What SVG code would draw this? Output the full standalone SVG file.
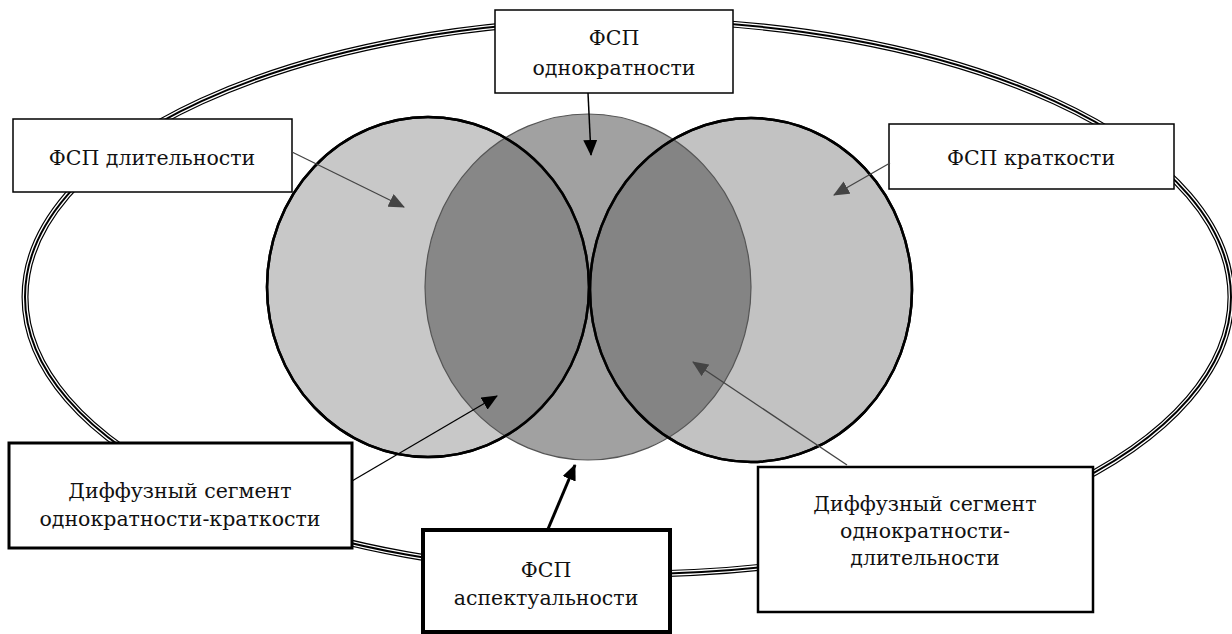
<svg xmlns="http://www.w3.org/2000/svg" width="1232" height="634" viewBox="0 0 1232 634">
<style>
.box{fill:#fff;stroke:#000}
.t{font-family:"DejaVu Serif",serif;font-size:20.5px;fill:#111;text-anchor:middle}
.ring{fill:none;stroke-linecap:round}
.edge{fill:none;stroke:#000;stroke-width:2.5}
</style>
<defs>
<marker id="ab" markerUnits="userSpaceOnUse" markerWidth="16" markerHeight="14" refX="15" refY="7" orient="auto"><path d="M0,0 L16,7 L0,14 Z" fill="#000"/></marker>
<marker id="ag" markerUnits="userSpaceOnUse" markerWidth="16" markerHeight="14" refX="15" refY="7" orient="auto"><path d="M0,0 L16,7 L0,14 Z" fill="#444"/></marker>
</defs>
<g id="outer">
<ellipse class="ring" cx="628" cy="297" rx="603" ry="277" stroke="#000" stroke-width="7"/>
<ellipse class="ring" cx="628" cy="297" rx="603" ry="277" stroke="#fff" stroke-width="4.6"/>
<ellipse class="ring" cx="628" cy="297" rx="603" ry="277" stroke="#000" stroke-width="2"/>
</g>
<g id="circles">
<ellipse id="c-left" cx="428" cy="287" rx="161" ry="170" fill="#c8c8c8" stroke="#000" stroke-width="2.5"/>
<ellipse id="c-right" cx="751" cy="290" rx="161" ry="172" fill="#c2c2c2" stroke="#000" stroke-width="2.5"/>
<ellipse id="c-mid" cx="588" cy="287" rx="163" ry="173" fill="#4a4a4a" fill-opacity="0.52" stroke="#555" stroke-width="1.2"/>
<ellipse class="edge" cx="428" cy="287" rx="161" ry="170"/>
<ellipse class="edge" cx="751" cy="290" rx="161" ry="172"/>
</g>
<g id="n-odn">
<rect class="box" x="495" y="10" width="238" height="83" stroke-width="1.5"/>
<text class="t" x="614" y="45">ФСП</text>
<text class="t" x="614" y="75">однократности</text>
</g>
<g id="n-dlit">
<rect class="box" x="13" y="119" width="279" height="73" stroke-width="1.5"/>
<text class="t" x="152" y="165">ФСП длительности</text>
</g>
<g id="n-krat">
<rect class="box" x="889" y="124" width="285" height="65" stroke-width="1.5"/>
<text class="t" x="1031" y="165">ФСП краткости</text>
</g>
<g id="n-seg-krat">
<rect class="box" x="9" y="443" width="343" height="105" stroke-width="3"/>
<text class="t" x="180" y="498">Диффузный сегмент</text>
<text class="t" x="180" y="526">однократности-краткости</text>
</g>
<g id="n-asp">
<rect class="box" x="423" y="530" width="247" height="102" stroke-width="4"/>
<text class="t" x="546" y="577">ФСП</text>
<text class="t" x="546" y="605">аспектуальности</text>
</g>
<g id="n-seg-dlit">
<rect class="box" x="758" y="467" width="335" height="145" stroke-width="2.5"/>
<text class="t" x="925" y="511">Диффузный сегмент</text>
<text class="t" x="925" y="538">однократности-</text>
<text class="t" x="925" y="565">длительности</text>
</g>
<g id="connectors">
<line x1="588" y1="93" x2="591" y2="155" stroke="#000" stroke-width="1.5" marker-end="url(#ab)"/>
<line x1="292" y1="152" x2="404" y2="207" stroke="#444" stroke-width="1.3" marker-end="url(#ag)"/>
<line x1="890" y1="163" x2="834" y2="195" stroke="#444" stroke-width="1.3" marker-end="url(#ag)"/>
<line x1="352" y1="481" x2="497" y2="396" stroke="#000" stroke-width="1.3" marker-end="url(#ab)"/>
<line x1="548" y1="529" x2="575" y2="465" stroke="#000" stroke-width="3" marker-end="url(#ab)"/>
<line x1="847" y1="465" x2="693" y2="362" stroke="#444" stroke-width="1.3" marker-end="url(#ag)"/>
</g>
</svg>
